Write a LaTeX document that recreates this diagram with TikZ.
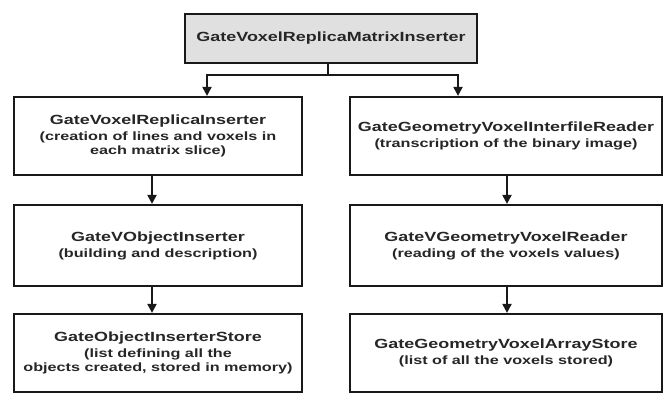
\documentclass[tikz,border=0pt]{standalone}
\usepackage{fontspec}
\setmainfont{Liberation Sans}[FakeStretch=1.35]
\usetikzlibrary{arrows.meta}
\usetikzlibrary{positioning}

\newcommand{\boxnote}[1]{{\fontsize{12}{14.5}\selectfont #1}}

\begin{document}
\begin{tikzpicture}[x=1pt,y=-1pt,
  classbox/.style={draw=black!90,line width=2.2pt,fill=white,align=center,
    text=black!85,font=\bfseries\fontsize{13.3}{14.5}\selectfont,inner sep=0pt},
  link/.style={black!90,line width=2pt},
  arr/.style={link,-{Triangle[length=9pt,width=9pt]}}]
\useasboundingbox[fill=white] (0,0) rectangle (666,394);

% top class
\node[classbox,fill=black!12,minimum width=292,minimum height=49] (matrix) at (331,38.5) {GateVoxelReplicaMatrixInserter};

% left branch
\node[classbox,minimum width=288,minimum height=78] (replica) at (158,136)
  {GateVoxelReplicaInserter\\[1.5pt] \boxnote{(creation of lines and voxels in}\\ \boxnote{each matrix slice)}};
\node[classbox,minimum width=288,minimum height=81] (vobject) at (158,245.5)
  {GateVObjectInserter\\[1.5pt] \boxnote{(building and description)}};
\node[classbox,minimum width=288,minimum height=78] (store) at (158,353)
  {GateObjectInserterStore\\[1.5pt] \boxnote{(list defining all the}\\ \boxnote{objects created, stored in memory)}};

% right branch
\node[classbox,minimum width=312,minimum height=78] (interfile) at (506,136)
  {GateGeometryVoxelInterfileReader\\[1.5pt] \boxnote{(transcription of the binary image)}};
\node[classbox,minimum width=312,minimum height=81] (vreader) at (506,245.5)
  {GateVGeometryVoxelReader\\[1.5pt] \boxnote{(reading of the voxels values)}};
\node[classbox,minimum width=312,minimum height=78] (arraystore) at (506,353)
  {GateGeometryVoxelArrayStore\\[1.5pt] \boxnote{(list of all the voxels stored)}};

% split under the top class
\coordinate (stem) at (328,75);
\coordinate (splitL) at (207,75);
\coordinate (splitR) at (458,75);
\draw[link] (stem |- matrix.south) -- (stem);
\draw[link,line cap=rect] (splitL) -- (splitR);
\draw[arr] (splitL) -- (splitL |- replica.north);
\draw[arr] (splitR) -- (splitR |- interfile.north);

\draw[arr] ([xshift=-6]replica.south) -- ([xshift=-6]vobject.north);
\draw[arr] ([xshift=-6]vobject.south) -- ([xshift=-6]store.north);
\draw[arr] ([xshift=1]interfile.south) -- ([xshift=1]vreader.north);
\draw[arr] ([xshift=1]vreader.south) -- ([xshift=1]arraystore.north);

\end{tikzpicture}
\end{document}
